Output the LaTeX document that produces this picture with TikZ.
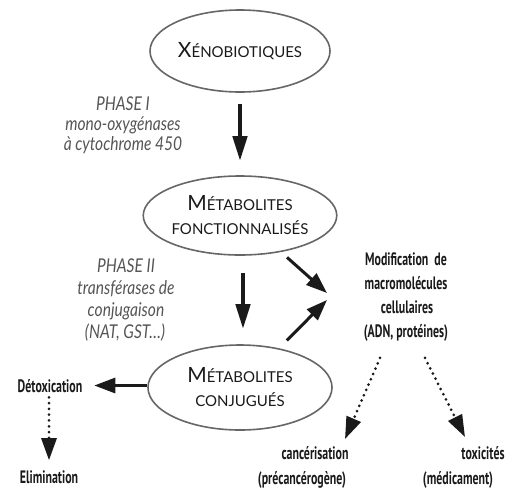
\documentclass[tikz,border=0pt]{standalone}
\usepackage{fontspec}
\setmainfont{Lato}
\newfontfamily\condbold[FakeStretch=0.66]{PT Sans}
\newfontfamily\narrowit[FakeStretch=0.82]{Lato}
\usetikzlibrary{shapes.geometric,arrows.meta}
\definecolor{ink}{HTML}{1A1A1A}
\definecolor{rim}{HTML}{666666}
\definecolor{note}{HTML}{555555}
\newcommand\capsc[2]{{\fontsize{21}{24}\selectfont #1}{\fontsize{15}{24}\selectfont #2}}
\tikzset{
  elli/.style={ellipse, draw=rim, line width=1.6pt, inner sep=0pt, align=center, text=ink,
    font=\fontsize{15}{24}\selectfont},
  lbl/.style={inner sep=0pt, outer sep=0pt, anchor=base, text=ink,
    font=\condbold\bfseries\fontsize{18}{20}\selectfont},
  phase/.style={inner sep=0pt, outer sep=0pt, anchor=base, text=note,
    font=\narrowit\itshape\fontsize{19}{20}\selectfont},
  bigarrow/.style={draw=ink, line width=4.5pt, -{Triangle[length=25pt,width=14pt]}},
  midarrow/.style={draw=ink, line width=3pt, -{Triangle[length=21pt,width=15pt]}},
  dotarrow/.style={draw=ink, line width=3pt, line cap=round, dash pattern=on 0pt off 5.8pt,
    -{Triangle[length=22pt,width=15pt]}}
}
\begin{document}
\begin{tikzpicture}[x=1pt,y=-1pt]
\useasboundingbox (0,0) rectangle (508,488);
% ellipses
\node[elli, minimum width=180pt, minimum height=82pt] (x1) at (240,51) {\capsc{X}{ÉNOBIOTIQUES}};
\node[elli, minimum width=182pt, minimum height=79pt] (m1) at (240,215.5) {\capsc{M}{ÉTABOLITES}\\ \capsc{}{FONCTIONNALISÉS}};
\node[elli, minimum width=184pt, minimum height=85pt] (m2) at (240,387.5) {\capsc{M}{ÉTABOLITES}\\ \capsc{}{CONJUGUÉS}};
% phase texts
\node[phase] (p1a) at (123,110) {PHASE I};
\node[phase] (p1b) at (123,130) {mono-oxygénases};
\node[phase] (p1c) at (123,150) {à cytochrome 450};
\node[phase] (p2a) at (126,272) {PHASE II};
\node[phase] (p2b) at (126,294) {transférases de};
\node[phase] (p2c) at (126,316) {conjugaison};
\node[phase] (p2d) at (125,338) {(NAT, GST…)};
% bold labels
\node[lbl] (mod1) at (406,265) {Modification\ \ de};
\node[lbl] (mod2) at (406,289) {macromolécules};
\node[lbl] (mod3) at (407,313) {cellulaires};
\node[lbl] (mod4) at (406,337) {(ADN, protéines)};
\node[lbl] (detox) at (50,392) {Détoxication};
\node[lbl] (elim) at (49,483) {Elimination};
\node[lbl] (canc1) at (315,459) {cancérisation};
\node[lbl] (canc2) at (302,484) {(précancérogène)};
\node[lbl] (tox1) at (483,459) {toxicités};
\node[lbl] (tox2) at (458,484) {(médicament)};
% free ends
\coordinate (t1) at (327,293);
\coordinate (t2) at (327,300);
% arrows
\draw[bigarrow] ([yshift=-11pt]x1.south) -- ([yshift=14pt]m1.north);
\draw[bigarrow] ([xshift=3pt,yshift=-17pt]m1.south) -- ([xshift=3pt,yshift=15pt]m2.north);
\draw[midarrow, shorten <=8pt] (m1) -- (t1);
\draw[midarrow, shorten <=11pt] (m2) -- (t2);
\draw[midarrow, shorten >=12pt] ([yshift=2pt]m2.west) -- ([yshift=2pt]m2.west -| detox.east);
\draw[dotarrow] ([xshift=-1pt,yshift=-5pt]detox.south) -- ([xshift=-1pt,yshift=10pt]detox.south |- elim.north);
\draw[dotarrow] ([shift={(-26pt,-17pt)}]mod4.south) -- ([shift={(30pt,7pt)}]canc1.north);
\draw[dotarrow] ([shift={(19pt,-17pt)}]mod4.south) -- ([shift={(-18pt,9pt)}]tox1.north);
\end{tikzpicture}
\end{document}
